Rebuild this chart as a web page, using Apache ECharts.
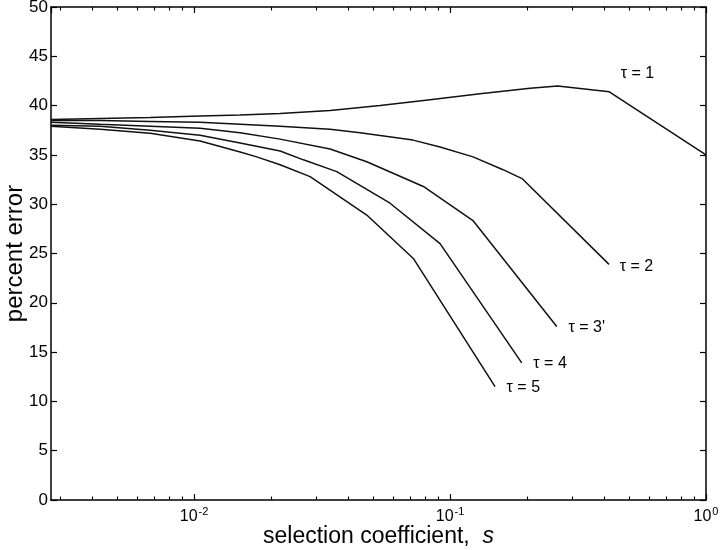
<!DOCTYPE html>
<html>
<head>
<meta charset="utf-8">
<script src="https://cdn.jsdelivr.net/npm/echarts@6/dist/echarts.min.js"></script>
<style>html,body{margin:0;padding:0;background:#fff}#c{width:720px;height:550px}</style>
</head>
<body>
<div id="c"></div>
<script>
// ---- data ----
const sTau1 = [0.00276, 0.004294, 0.006733, 0.01055, 0.01513, 0.02168, 0.03399, 0.05328, 0.08353, 0.1310, 0.2054, 0.2634, 0.4190, 1.0];
const errTau1 = [38.6, 38.7, 38.8, 38.95, 39.05, 39.2, 39.5, 40.0, 40.6, 41.2, 41.75, 42.0, 41.4, 35.0];

const sTau2 = [0.00276, 0.004294, 0.006733, 0.01055, 0.01513, 0.02168, 0.03399, 0.04450, 0.07168, 0.09140, 0.1230, 0.1611, 0.1911, 0.4179];
const errTau2 = [38.5, 38.5, 38.4, 38.3, 38.1, 37.9, 37.6, 37.25, 36.5, 35.8, 34.8, 33.5, 32.6, 23.9];

const sTau3 = [0.00276, 0.004294, 0.006733, 0.01055, 0.01513, 0.02168, 0.03399, 0.04727, 0.07864, 0.1233, 0.2611];
const errTau3 = [38.3, 38.1, 37.9, 37.7, 37.25, 36.6, 35.6, 34.3, 31.8, 28.3, 17.6];

const sTau4 = [0.00276, 0.004294, 0.006733, 0.01055, 0.01513, 0.02168, 0.02673, 0.03609, 0.05830, 0.0914, 0.1906];
const errTau4 = [38.0, 37.9, 37.5, 37.0, 36.2, 35.4, 34.5, 33.3, 30.1, 26.0, 13.9];

const sTau5 = [0.00276, 0.004294, 0.006733, 0.01055, 0.01513, 0.01757, 0.02168, 0.02839, 0.04727, 0.07187, 0.1499];
const errTau5 = [37.9, 37.6, 37.2, 36.4, 35.3, 34.8, 34.0, 32.8, 28.9, 24.5, 11.5];

const seriesNames = ['τ = 1', 'τ = 2', "τ = 3'", 'τ = 4', 'τ = 5'];
const labelS = [0.540, 0.5353, 0.342, 0.2459, 0.1933];
const labelErr = [43.23, 23.72, 17.45, 13.80, 11.42];

const xMin = 0.00276, xMax = 1;
const yMin = 0, yMax = 50, yStep = 5;
const minorTickValues = [0.003, 0.004, 0.005, 0.006, 0.007, 0.008, 0.009,
  0.02, 0.03, 0.04, 0.05, 0.06, 0.07, 0.08, 0.09,
  0.2, 0.3, 0.4, 0.5, 0.6, 0.7, 0.8, 0.9];
const xTitle = 'selection coefficient,';
const xTitleVar = 's';
const yTitle = 'percent error';

// ---- chart ----
const FONT = '"Liberation Sans", Arial, Helvetica, sans-serif';
const sList = [sTau1, sTau2, sTau3, sTau4, sTau5];
const eList = [errTau1, errTau2, errTau3, errTau4, errTau5];

const chart = echarts.init(document.getElementById('c'), null, {renderer: 'canvas'});

function logAxis(pos, minor, main) {
  return {
    type: 'log', logBase: 10, min: xMin, max: xMax, position: pos,
    axisLine: {show: main, lineStyle: {color: '#000', width: 1.5}},
    axisTick: minor
      ? {show: true, inside: true, length: 3.5, customValues: minorTickValues, lineStyle: {color: '#000', width: 1.1}}
      : {show: true, inside: true, length: 6, lineStyle: {color: '#000', width: 1.2}},
    axisLabel: {show: false},
    splitLine: {show: false},
    minorTick: {show: false}
  };
}

const bottomMain = logAxis('bottom', false, true);
bottomMain.axisLabel = {
  show: true, showMinLabel: false, margin: 6,
  formatter: function (v) {
    const e = Math.round(Math.log10(v));
    return '{b|10}{s|' + e + '}';
  },
  rich: {
    b: {fontFamily: FONT, fontSize: 16, color: '#000', verticalAlign: 'bottom'},
    s: {fontFamily: FONT, fontSize: 11, color: '#000', verticalAlign: 'bottom', padding: [0, 0, 8, 1]}
  }
};
bottomMain.name = '{t|' + xTitle + '}{v|  ' + xTitleVar + '}';
bottomMain.nameLocation = 'middle';
bottomMain.nameGap = 25;
bottomMain.nameMoveOverlap = false;
bottomMain.nameTextStyle = {
  rich: {
    t: {fontFamily: FONT, fontSize: 23, color: '#000'},
    v: {fontFamily: FONT, fontSize: 23, color: '#000', fontStyle: 'italic'}
  }
};

function valAxis(pos, main) {
  const a = {
    type: 'value', min: yMin, max: yMax, interval: yStep, position: pos,
    axisLine: {show: true, lineStyle: {color: '#000', width: 1.5}},
    axisTick: {show: true, inside: true, length: 6, lineStyle: {color: '#000', width: 1.2}},
    axisLabel: {show: main, color: '#000', fontFamily: FONT, fontSize: 17, margin: 3},
    splitLine: {show: false}
  };
  if (main) {
    a.name = yTitle;
    a.nameLocation = 'middle';
    a.nameGap = 24;
    a.nameMoveOverlap = false;
    a.nameTextStyle = {fontFamily: FONT, fontSize: 24, color: '#000'};
  }
  return a;
}

const series = sList.map(function (sArr, i) {
  return {
    name: seriesNames[i],
    type: 'line',
    xAxisIndex: 0, yAxisIndex: 0,
    data: sArr.map(function (s, j) { return [s, eList[i][j]]; }),
    symbol: 'none',
    smooth: false,
    lineStyle: {color: '#111', width: 1.5},
    z: 3,
    markPoint: {
      silent: true,
      symbol: 'circle', symbolSize: 1,
      itemStyle: {color: 'rgba(0,0,0,0)'},
      label: {show: true, position: 'inside', formatter: seriesNames[i], color: '#000', fontFamily: FONT, fontSize: 16},
      data: [{coord: [labelS[i], labelErr[i]]}]
    }
  };
});

chart.setOption({
  animation: false,
  backgroundColor: '#fff',
  grid: {left: 51, right: 14, top: 7, bottom: 50, containLabel: false, outerBoundsMode: 'none'},
  xAxis: [bottomMain, logAxis('bottom', true, false), logAxis('top', false, true), logAxis('top', true, false)],
  yAxis: [valAxis('left', true), valAxis('right', false)],
  series: series
});
</script>
</body>
</html>
